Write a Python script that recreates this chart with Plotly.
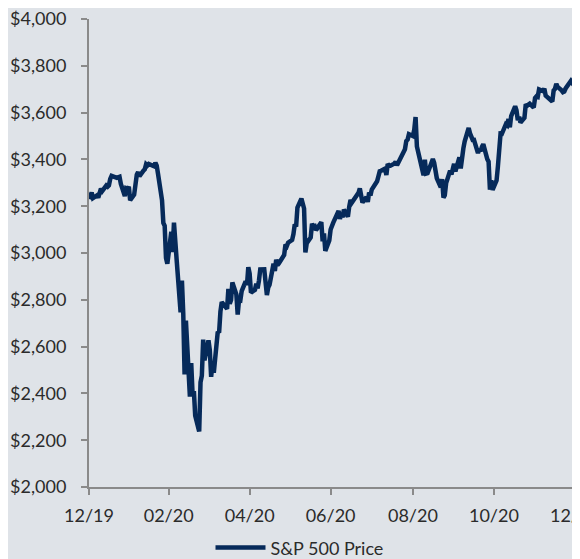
import plotly.graph_objects as go

# Trading days per month (Dec 2019 – Dec 2020) and S&P 500 closing prices
months = ["2019-12", "2020-01", "2020-02", "2020-03", "2020-04", "2020-05", "2020-06",
          "2020-07", "2020-08", "2020-09", "2020-10", "2020-11", "2020-12"]

trading_days = [
    [31],
    [2, 3, 6, 7, 8, 9, 10, 13, 14, 15, 16, 17, 21, 22, 23, 24, 27, 28, 29, 30, 31],
    [3, 4, 5, 6, 7, 10, 11, 12, 13, 14, 18, 19, 20, 21, 24, 25, 26, 27, 28],
    [2, 3, 4, 5, 6, 9, 10, 11, 12, 13, 16, 17, 18, 19, 20, 23, 24, 25, 26, 27, 30, 31],
    [1, 2, 3, 6, 7, 8, 9, 13, 14, 15, 16, 17, 20, 21, 22, 23, 24, 27, 28, 29, 30],
    [1, 4, 5, 6, 7, 8, 11, 12, 13, 14, 15, 18, 19, 20, 21, 22, 26, 27, 28, 29],
    [1, 2, 3, 4, 5, 8, 9, 10, 11, 12, 15, 16, 17, 18, 19, 22, 23, 24, 25, 26, 29, 30],
    [1, 2, 6, 7, 8, 9, 10, 13, 14, 15, 16, 17, 20, 21, 22, 23, 24, 27, 28, 29, 30, 31],
    [3, 4, 5, 6, 7, 10, 11, 12, 13, 14, 17, 18, 19, 20, 21, 24, 25, 26, 27, 28, 31],
    [1, 2, 3, 4, 8, 9, 10, 11, 14, 15, 16, 17, 18, 21, 22, 23, 24, 25, 28, 29, 30],
    [1, 2, 5, 6, 7, 8, 9, 12, 13, 14, 15, 16, 19, 20, 21, 22, 23, 26, 27, 28, 29, 30],
    [2, 3, 4, 5, 6, 9, 10, 11, 12, 13, 16, 17, 18, 19, 20, 23, 24, 25, 27, 30],
    [1, 2, 3, 4, 7, 8, 9, 10, 11, 14, 15, 16, 17, 18, 21, 22, 23, 24, 28, 29, 30],
]

closes = [
    [3230.78],
    [3257.85, 3234.85, 3246.28, 3237.18, 3253.05, 3274.70, 3265.35, 3288.13, 3283.15, 3289.29,
     3316.81, 3329.62, 3320.79, 3321.75, 3325.54, 3295.47, 3243.63, 3276.24, 3273.40, 3283.66, 3225.52],
    [3248.92, 3297.59, 3334.69, 3345.78, 3327.71, 3352.09, 3357.75, 3379.45, 3373.94, 3380.16,
     3370.29, 3386.15, 3373.23, 3337.75, 3225.89, 3128.21, 3116.39, 2978.76, 2954.22],
    [3090.23, 3003.37, 3130.12, 3023.94, 2972.37, 2746.56, 2882.23, 2741.38, 2480.64, 2711.02,
     2386.13, 2529.19, 2398.10, 2409.39, 2304.92, 2237.40, 2447.33, 2475.56, 2630.07, 2541.47,
     2626.65, 2584.59],
    [2470.50, 2526.90, 2488.65, 2663.68, 2659.41, 2749.98, 2789.82, 2761.63, 2846.06, 2783.36,
     2799.55, 2874.56, 2823.16, 2736.56, 2799.31, 2797.80, 2836.74, 2878.48, 2863.39, 2939.51, 2912.43],
    [2830.71, 2842.74, 2868.44, 2848.42, 2881.19, 2929.80, 2930.19, 2870.12, 2820.00, 2852.50,
     2863.70, 2953.91, 2922.94, 2971.61, 2948.51, 2955.45, 2991.77, 3036.13, 3029.73, 3044.31],
    [3055.73, 3080.82, 3122.87, 3112.35, 3193.93, 3232.39, 3207.18, 3190.14, 3002.10, 3041.31,
     3066.59, 3124.74, 3113.49, 3115.34, 3097.74, 3117.86, 3131.29, 3050.33, 3083.76, 3009.05,
     3053.24, 3100.29],
    [3115.86, 3130.01, 3179.72, 3145.32, 3169.94, 3152.05, 3185.04, 3155.22, 3197.52, 3226.56,
     3215.57, 3224.73, 3251.84, 3257.30, 3276.02, 3235.66, 3215.63, 3239.41, 3218.44, 3258.44,
     3246.22, 3271.12],
    [3294.61, 3306.51, 3327.77, 3349.16, 3351.28, 3360.47, 3333.69, 3380.35, 3373.43, 3372.85,
     3381.99, 3389.78, 3374.85, 3385.51, 3397.16, 3431.28, 3443.62, 3478.73, 3484.55, 3508.01, 3500.31],
    [3526.65, 3580.84, 3455.06, 3426.96, 3331.84, 3398.96, 3339.19, 3340.97, 3383.54, 3401.20,
     3385.49, 3357.01, 3319.47, 3281.06, 3315.57, 3236.92, 3246.59, 3298.46, 3351.60, 3335.47, 3363.00],
    [3380.80, 3348.42, 3408.60, 3360.97, 3419.44, 3446.83, 3477.14, 3534.22, 3511.93, 3488.67,
     3483.34, 3483.81, 3426.92, 3443.12, 3435.56, 3453.49, 3465.39, 3400.97, 3390.68, 3271.03,
     3310.11, 3269.96],
    [3310.24, 3369.16, 3443.44, 3510.45, 3509.44, 3550.50, 3545.53, 3572.66, 3537.01, 3585.15,
     3626.91, 3609.53, 3567.79, 3581.87, 3557.54, 3577.59, 3635.41, 3629.65, 3638.35, 3621.63],
    [3662.45, 3669.01, 3666.72, 3699.12, 3691.96, 3702.25, 3672.82, 3668.10, 3663.46, 3647.49,
     3694.62, 3701.17, 3722.48, 3709.41, 3694.92, 3687.26, 3690.01, 3703.06, 3735.36, 3727.04, 3732.04],
]

tick_dates = ["2019-12-31", "2020-02-29", "2020-04-30", "2020-06-30",
              "2020-08-31", "2020-10-31", "2020-12-31"]
tick_labels = ["12/19", "02/20", "04/20", "06/20", "08/20", "10/20", "12/20"]

y_ticks = [2000, 2200, 2400, 2600, 2800, 3000, 3200, 3400, 3600, 3800, 4000]
y_labels = ["$" + format(v, ",") for v in y_ticks]

series_name = "S&P 500 Price"

dates = []
prices = []
for m, days, vals in zip(months, trading_days, closes):
    for d, v in zip(days, vals):
        dates.append(f"{m}-{d:02d}")
        prices.append(v)

BG = "#dfe3e8"
NAVY = "#062a5a"
AXIS = "#8a8a8a"
TXT = "#2b2b2b"
FONT = "Lato, 'Open Sans', sans-serif"

fig = go.Figure()
fig.add_trace(go.Scatter(
    x=dates, y=prices, mode="lines", name=series_name,
    line=dict(color=NAVY, width=4.5),
    cliponaxis=False,
))

fig.update_layout(
    width=580, height=559,
    paper_bgcolor=BG, plot_bgcolor=BG,
    margin=dict(l=81, r=13, t=11, b=80, autoexpand=False),
    font=dict(family=FONT, size=18, color=TXT),
    showlegend=True,
    legend=dict(orientation="h", x=0.25, xanchor="left", y=-0.13, yanchor="middle",
                font=dict(family=FONT, size=18, color=TXT), bgcolor="rgba(0,0,0,0)",
                itemwidth=50),
    xaxis=dict(
        type="date", range=["2019-12-31", "2020-12-31 02:00"],
        tickvals=tick_dates, ticktext=tick_labels,
        showgrid=False, zeroline=False, automargin=False,
        showline=True, linecolor=AXIS, linewidth=2,
        ticks="outside", ticklen=6, tickwidth=2, tickcolor=AXIS,
        tickfont=dict(family=FONT, size=18, color=TXT),
        ticklabelstandoff=5, ticklabeloverflow="allow",
    ),
    yaxis=dict(
        range=[2000, 4000], tickvals=y_ticks, ticktext=y_labels,
        showgrid=False, zeroline=False, automargin=False,
        showline=True, linecolor=AXIS, linewidth=2,
        ticks="outside", ticklen=6, tickwidth=2, tickcolor=AXIS,
        tickfont=dict(family=FONT, size=18, color=TXT),
        ticklabelstandoff=11, ticklabeloverflow="allow",
    ),
)

fig.write_html("out.html")
